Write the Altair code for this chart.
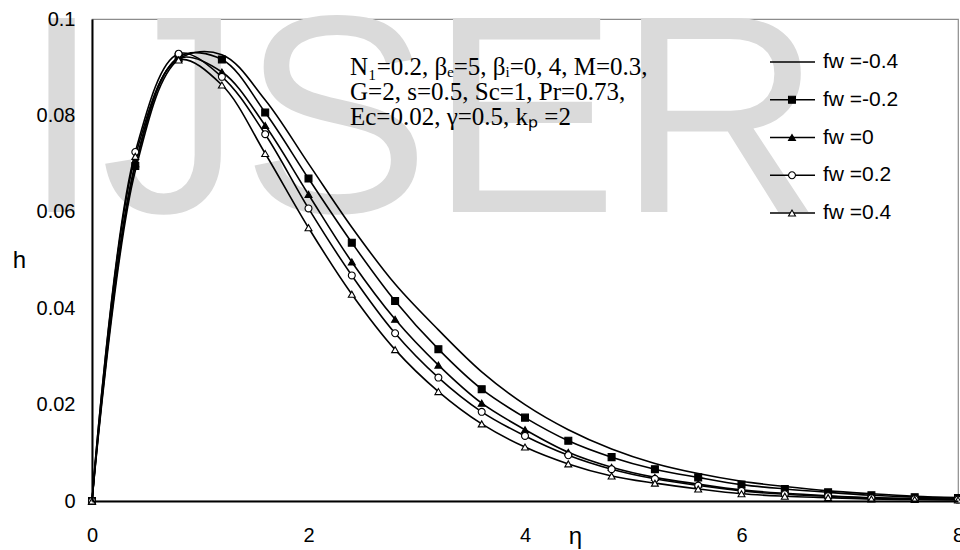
import altair as alt
import pandas as pd

# ---------------- data ----------------
eta = [0.0, 0.4, 0.8, 1.2, 1.6, 2.0, 2.4, 2.8, 3.2, 3.6, 4.0,
       4.4, 4.8, 5.2, 5.6, 6.0, 6.4, 6.8, 7.2, 7.6, 8.0]

h_fw_m04 = [0.0, 0.0685, 0.0916, 0.0926, 0.0832, 0.0700, 0.0568, 0.0450, 0.0355, 0.0268, 0.0200,
            0.0148, 0.0108, 0.0078, 0.0057, 0.0041, 0.0030, 0.0021, 0.0015, 0.0010, 0.0007]
h_fw_m02 = [0.0, 0.0695, 0.0921, 0.0916, 0.0806, 0.0669, 0.0536, 0.0415, 0.0315, 0.0232, 0.0173,
            0.0125, 0.0091, 0.0066, 0.0049, 0.0034, 0.0025, 0.0018, 0.0012, 0.0008, 0.0006]
h_fw_0 = [0.0, 0.0700, 0.0918, 0.0890, 0.0779, 0.0636, 0.0496, 0.0377, 0.0282, 0.0203, 0.0148,
          0.0101, 0.0070, 0.0049, 0.0035, 0.0023, 0.0016, 0.0011, 0.0007, 0.0005, 0.0004]
h_fw_02 = [0.0, 0.0724, 0.0928, 0.0880, 0.0761, 0.0607, 0.0468, 0.0348, 0.0256, 0.0185, 0.0135,
           0.0095, 0.0066, 0.0046, 0.0032, 0.0021, 0.0014, 0.0010, 0.0006, 0.0004, 0.0003]
h_fw_04 = [0.0, 0.0715, 0.0915, 0.0863, 0.0721, 0.0567, 0.0429, 0.0314, 0.0227, 0.0160, 0.0112,
           0.0077, 0.0052, 0.0037, 0.0025, 0.0015, 0.0010, 0.0007, 0.0004, 0.0003, 0.0002]

series_names = ["-0.4", "-0.2", "0", "0.2", "0.4"]
legend_labels = ["fw =-0.4", "fw =-0.2", "fw =0", "fw =0.2", "fw =0.4"]
marker_series = ["-0.2", "0", "0.2", "0.4"]
marker_shapes = ["square", "triangle-up", "circle", "triangle-up"]
marker_fills = ["black", "black", "white", "white"]

x_ticks = [0, 2, 4, 6, 8]
y_ticks = [0, 0.02, 0.04, 0.06, 0.08, 0.1]

annotation_lines = [
    "N\u2081=0.2, \u03b2\u2091=5, \u03b2\u1d62=0, 4, M=0.3,",
    "G=2, s=0.5, Sc=1, Pr=0.73,",
    "Ec=0.02, \u03b3=0.5, k\u209a =2",
]
watermark = "IJSER"

# ---------------- tables ----------------
all_h = [h_fw_m04, h_fw_m02, h_fw_0, h_fw_02, h_fw_04]
rows = []
for name, hs in zip(series_names, all_h):
    for e, h in zip(eta, hs):
        rows.append({"eta": e, "h": h, "series": name})
df = pd.DataFrame(rows)

leg_df = pd.DataFrame({"series": series_names, "label": legend_labels})

SANS = "Liberation Sans"
SERIF = "Liberation Serif"

x_scale = alt.Scale(domain=[0, 8], nice=False, zero=True)
y_scale = alt.Scale(domain=[0, 0.1], nice=False)
shape_scale = alt.Scale(domain=marker_series, range=marker_shapes)
fill_scale = alt.Scale(domain=marker_series, range=marker_fills)
leg_y_scale = alt.Scale(type="point", domain=series_names, range=[43, 194], padding=0)

# watermark (behind everything)
wm = alt.Chart(pd.DataFrame({"t": [watermark]})).mark_text(
    font=SANS, fontSize=282, color="#dadada", align="center", baseline="alphabetic"
).encode(x=alt.value(330), y=alt.value(193), text="t:N")

lines = alt.Chart(df).mark_line(
    color="black", strokeWidth=1.6, interpolate="catmull-rom"
).encode(
    x=alt.X("eta:Q", scale=x_scale,
            axis=alt.Axis(values=x_ticks, title="\u03b7", format="~g", ticks=False,
                          grid=False, labelPadding=24, labelFlush=False, zindex=2,
                          titleX=483, titleY=35,
                          titleAlign="center", titleBaseline="middle")),
    y=alt.Y("h:Q", scale=y_scale,
            axis=alt.Axis(values=y_ticks, title="h", format="~g", ticks=False,
                          grid=False, labelPadding=17, labelFlush=False, zindex=2,
                          titleAngle=0, titleX=-73,
                          titleY=241, titleAlign="center", titleBaseline="middle")),
    detail="series:N",
)

points = alt.Chart(df).transform_filter(
    alt.FieldOneOfPredicate(field="series", oneOf=marker_series)
).mark_point(stroke="black", strokeWidth=1.1, opacity=1, fillOpacity=1, size=48).encode(
    x=alt.X("eta:Q", scale=x_scale),
    y=alt.Y("h:Q", scale=y_scale, axis=None),
    shape=alt.Shape("series:N", scale=shape_scale, legend=None),
    fill=alt.Fill("series:N", scale=fill_scale, legend=None),
)

annot = alt.Chart(pd.DataFrame({"t": ["\n".join(annotation_lines)]})).mark_text(
    font=SERIF, fontSize=25, color="black", align="left", baseline="alphabetic",
    lineBreak="\n", lineHeight=25
).encode(x=alt.value(258), y=alt.value(56), text="t:N")

leg_rule = alt.Chart(leg_df).mark_rule(color="black", strokeWidth=1.6).encode(
    x=alt.value(678), x2=alt.value(723),
    y=alt.Y("series:N", scale=leg_y_scale, axis=None),
)
leg_pts = alt.Chart(leg_df).transform_filter(
    alt.FieldOneOfPredicate(field="series", oneOf=marker_series)
).mark_point(stroke="black", strokeWidth=1.1, opacity=1, fillOpacity=1, size=48).encode(
    x=alt.value(700),
    y=alt.Y("series:N", scale=leg_y_scale, axis=None),
    shape=alt.Shape("series:N", scale=shape_scale, legend=None),
    fill=alt.Fill("series:N", scale=fill_scale, legend=None),
)
leg_text = alt.Chart(leg_df).mark_text(
    font=SANS, fontSize=21, color="black", align="left", baseline="middle"
).encode(
    x=alt.value(731),
    y=alt.Y("series:N", scale=leg_y_scale, axis=None),
    text="label:N",
)

chart = alt.layer(
    wm, lines, points, annot, leg_rule, leg_pts, leg_text
).resolve_scale(
    y="independent"
).properties(
    width=866, height=482,
    autosize=alt.AutoSizeParams(type="none"),
    padding={"left": 92, "top": 19, "right": 2, "bottom": 49},
    background="white",
).configure_view(
    stroke="#8c8c8c", strokeWidth=1.2
).configure_axis(
    domainColor="black", domainWidth=2,
    labelFont=SANS, labelFontSize=20, labelColor="black",
    titleFont=SANS, titleFontSize=24, titleFontWeight="normal", titleColor="black",
)

chart.save("out.html", embed_options={"renderer": "svg", "actions": False})
